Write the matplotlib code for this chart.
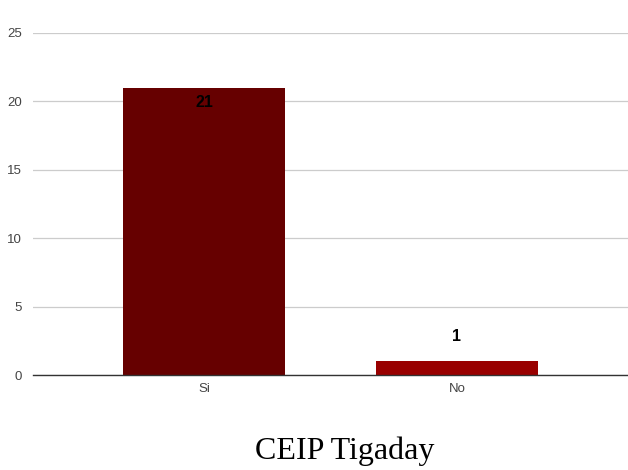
import matplotlib
matplotlib.use("Agg")
import matplotlib.pyplot as plt

categories = ["Si", "No"]
values = [21, 1]
colors = ["#660000", "#990000"]
yticks = [0, 5, 10, 15, 20, 25]
title = "CEIP Tigaday"

plt.rcParams['font.family'] = ['Liberation Sans', 'DejaVu Sans']

fig = plt.figure(figsize=(6.28, 4.70), dpi=100)
ax = fig.add_axes([0.0525, 0.2021, 0.9475, 0.7277])

x = list(range(len(categories)))
bars = ax.bar(x, values, width=0.644, color=colors, zorder=3)

# value labels: inside the top of the tall bar, above the short one
for xi, v in zip(x, values):
    if v > 5:
        ax.text(xi, v - 0.5, str(v), ha='center', va='top', fontsize=11.5,
                fontweight='bold', color='black', zorder=4)
    else:
        ax.text(xi, v + 1.3, str(v), ha='center', va='bottom', fontsize=11.5,
                fontweight='bold', color='black', zorder=4)

ax.set_xlim(-0.676, 1.676)
ax.set_ylim(0, 25)
ax.set_yticks(yticks)
ax.set_xticks(x)
ax.set_xticklabels(categories)
ax.tick_params(axis='both', length=0, labelsize=9.5, colors='#444444')
ax.tick_params(axis='y', pad=8)
ax.tick_params(axis='x', pad=6)
ax.grid(axis='y', color='#cccccc', linewidth=0.9, zorder=0)
for s in ['top', 'right', 'left']:
    ax.spines[s].set_visible(False)
ax.spines['bottom'].set_color('#333333')
ax.spines['bottom'].set_linewidth(1.0)
ax.spines['bottom'].set_zorder(5)

fig.text(0.5495, 0.024, title, ha='center', va='baseline',
         fontsize=23, family=['Liberation Serif', 'DejaVu Serif'], color='black')

fig.savefig("out.png", dpi=100)
